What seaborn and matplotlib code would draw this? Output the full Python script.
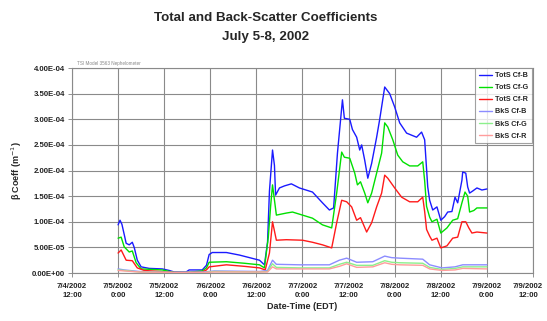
import datetime as dt

import matplotlib
matplotlib.use("Agg")
import matplotlib.pyplot as plt
from matplotlib.ticker import FuncFormatter, MultipleLocator
import matplotlib.dates as mdates
import matplotlib.transforms as mtransforms
import numpy as np
import pandas as pd
import seaborn as sns

# Hours since 2002-07-05 00:00 EDT, and coefficients in units of 1e-4 m^-1
tot_b_hours = [0.0, 0.5, 1.0, 1.6, 2.1, 2.9, 3.7, 4.2, 5.0, 6.0, 8.1, 11.5, 13.3, 14.6,
               17.7, 18.5, 21.9, 23.0, 23.7, 24.5, 28.2, 31.6, 34.2, 36.8, 38.1, 38.9,
               39.4, 39.9, 40.2, 40.7, 41.0, 42.0, 43.3, 45.1, 47.2, 50.6, 53.2, 55.0,
               56.1, 57.1, 58.4, 58.9, 60.3, 61.0, 62.1, 62.9, 63.4, 64.2, 65.0, 66.0,
               67.3, 68.1, 69.4, 70.7, 72.0, 73.3, 75.1, 77.7, 79.0, 79.8, 80.6, 81.1,
               81.9, 83.0, 84.0, 85.0, 85.8, 86.9, 87.7, 88.4, 89.5, 89.7, 90.5, 91.0,
               91.5, 92.3, 93.4, 94.7, 96.0]
tot_b = [0.94, 1.03, 0.95, 0.75, 0.58, 0.55, 0.60, 0.50, 0.25, 0.12, 0.09, 0.08, 0.05, 0.02,
         0.02, 0.06, 0.06, 0.15, 0.36, 0.40, 0.40, 0.35, 0.30, 0.25, 0.16, 0.60,
         1.60, 2.10, 2.40, 2.10, 1.52, 1.66, 1.70, 1.74, 1.66, 1.58, 1.37, 1.23,
         1.27, 2.34, 3.38, 3.02, 3.00, 2.80, 2.65, 2.40, 2.50, 2.20, 1.85, 2.14,
         2.65, 3.00, 3.63, 3.50, 3.24, 2.93, 2.73, 2.65, 2.75, 2.60, 1.68, 1.42,
         1.23, 1.29, 1.03, 1.10, 1.19, 1.20, 1.48, 1.37, 1.81, 1.97, 1.95, 1.68,
         1.56, 1.60, 1.66, 1.62, 1.64]

tot_g_hours = [0.0, 0.8, 1.6, 2.9, 3.7, 4.7, 6.0, 11.5, 14.6, 17.7, 21.9, 23.0, 23.7, 28.2,
               32.9, 36.8, 38.1, 39.1, 39.7, 40.2, 41.2, 43.8, 45.4, 48.0, 50.6, 53.2,
               55.6, 56.9, 58.2, 58.9, 60.3, 61.6, 62.3, 63.1, 64.2, 65.0, 66.0, 67.3,
               68.6, 69.4, 70.2, 71.5, 72.8, 74.1, 75.9, 78.0, 79.3, 79.8, 80.3, 81.1,
               81.7, 83.0, 84.0, 85.6, 87.1, 88.4, 89.5, 90.3, 91.0, 91.5, 92.6, 93.4, 96.0]
tot_g = [0.68, 0.70, 0.51, 0.41, 0.43, 0.20, 0.08, 0.06, 0.01, 0.01, 0.04, 0.10, 0.21, 0.22,
         0.19, 0.16, 0.10, 0.70, 1.30, 1.72, 1.13, 1.17, 1.19, 1.13, 1.07, 0.94,
         0.88, 1.56, 2.36, 2.26, 2.24, 1.95, 1.72, 1.78, 1.56, 1.37, 1.56, 1.95,
         2.34, 2.93, 2.85, 2.60, 2.30, 2.17, 2.09, 2.09, 2.17, 1.80, 1.30, 1.09,
         1.00, 1.05, 0.78, 0.88, 1.03, 1.06, 1.37, 1.58, 1.50, 1.19, 1.22, 1.27, 1.27]

tot_r_hours = [0.0, 0.8, 2.1, 3.7, 5.0, 6.8, 14.6, 17.7, 21.9, 23.0, 23.7, 28.2, 32.9, 36.8,
               38.3, 39.4, 40.2, 41.2, 43.8, 48.0, 50.6, 53.2, 55.6, 56.9, 58.2, 59.5,
               60.8, 62.1, 63.1, 64.7, 66.0, 67.3, 68.6, 69.4, 70.2, 72.0, 73.8, 75.9,
               78.0, 79.3, 79.8, 80.3, 81.1, 81.7, 83.0, 84.0, 85.6, 87.1, 88.4, 89.5,
               90.5, 91.3, 92.1, 93.4, 96.0]
tot_r = [0.39, 0.45, 0.25, 0.24, 0.10, 0.05, 0.01, 0.01, 0.02, 0.06, 0.12, 0.16, 0.13, 0.10,
         0.06, 0.39, 1.00, 0.64, 0.65, 0.64, 0.60, 0.55, 0.49, 0.98, 1.42, 1.39,
         1.29, 1.03, 1.08, 0.80, 0.98, 1.29, 1.56, 1.91, 1.85, 1.66, 1.48, 1.39,
         1.39, 1.48, 1.20, 0.85, 0.72, 0.64, 0.68, 0.49, 0.53, 0.68, 0.70, 1.00,
         1.00, 0.88, 0.78, 0.80, 0.78]

bks_hours = [0.0, 1.6, 5.5, 14.6, 22.4, 25.0, 36.8, 38.9, 40.2, 41.2, 47.2, 55.0, 57.6,
             59.5, 62.1, 66.3, 69.4, 71.2, 73.3, 79.3, 81.1, 84.3, 87.7, 89.7, 96.0]
bks_b = [0.08, 0.06, 0.03, 0.01, 0.02, 0.04, 0.03, 0.05, 0.25, 0.17, 0.16, 0.16, 0.25,
         0.29, 0.21, 0.22, 0.33, 0.30, 0.29, 0.27, 0.16, 0.10, 0.12, 0.16, 0.16]
bks_g = [0.06, 0.05, 0.02, 0.01, 0.01, 0.03, 0.02, 0.03, 0.18, 0.11, 0.10, 0.10, 0.17,
         0.21, 0.15, 0.15, 0.24, 0.21, 0.20, 0.19, 0.11, 0.07, 0.09, 0.12, 0.12]
bks_r = [0.05, 0.04, 0.02, 0.01, 0.01, 0.02, 0.02, 0.02, 0.12, 0.08, 0.08, 0.08, 0.13,
         0.18, 0.11, 0.12, 0.20, 0.17, 0.16, 0.15, 0.08, 0.05, 0.06, 0.09, 0.08]

series_names = ["TotS Cf-B", "TotS Cf-G", "TotS Cf-R", "BkS Cf-B", "BkS Cf-G", "BkS Cf-R"]
series_colors = ["#1a1aff", "#00e000", "#ff1a1a", "#8c8cff", "#8cf08c", "#ff9c9c"]

start = dt.datetime(2002, 7, 5, 0, 0)
frames = []
for name, hrs, vals in zip(series_names,
                           [tot_b_hours, tot_g_hours, tot_r_hours, bks_hours, bks_hours, bks_hours],
                           [tot_b, tot_g, tot_r, bks_b, bks_g, bks_r]):
    frames.append(pd.DataFrame({
        "time": [start + dt.timedelta(hours=h) for h in hrs],
        "coeff": np.array(vals) * 1e-4,
        "series": name,
    }))
df = pd.concat(frames, ignore_index=True)

sns.set_style("white")
plt.rcParams["font.family"] = ["Liberation Sans", "DejaVu Sans"]

fig = plt.figure(figsize=(5.47, 3.21), dpi=100)
ax = fig.add_axes([0.1316, 0.1495, 0.8428, 0.6385])

sns.lineplot(data=df, x="time", y="coeff", hue="series", hue_order=series_names,
             palette=dict(zip(series_names, series_colors)), estimator=None,
             sort=False, linewidth=1.0, ax=ax)

# axes ranges and ticks
ax.set_xlim(dt.datetime(2002, 7, 4, 12), dt.datetime(2002, 7, 9, 12))
ax.set_ylim(0, 4.0e-4)
ax.xaxis.set_major_locator(mdates.HourLocator(byhour=[0, 12]))


def fmt_time(x, pos):
    d = mdates.num2date(x)
    return f"{d.month}/{d.day}/{d.year}\n{d.hour}:{d.minute:02d}"


ax.xaxis.set_major_formatter(FuncFormatter(fmt_time))
ax.yaxis.set_major_locator(MultipleLocator(5e-5))
ax.yaxis.set_major_formatter(FuncFormatter(lambda v, p: f"{v:.2E}"))

ax.tick_params(axis="both", which="major", labelsize=5.6, length=3, width=0.6,
               color="#808080", direction="out", pad=2, bottom=True, left=True)
ax.tick_params(axis="x", pad=4)
fig.canvas.draw()
xlabels = ax.get_xticklabels()
for lab in xlabels + ax.get_yticklabels():
    lab.set_fontweight("bold")
    lab.set_color("#222222")
for lab in xlabels:
    lab.set_linespacing(1.45)
# keep the final date label inside the figure edge
xlabels[-1].set_transform(xlabels[-1].get_transform() +
                          mtransforms.ScaledTranslation(-5 / 100, 0, fig.dpi_scale_trans))

ax.grid(True, color="#8a8a8a", linewidth=0.8)
for sp in ax.spines.values():
    sp.set_color("#8a8a8a")
    sp.set_linewidth(0.8)

ax.set_xlabel("Date-Time (EDT)", fontsize=6.5, fontweight="bold", labelpad=2)
ax.set_ylabel("β Coeff (m$^{-1}$)", fontsize=6.5, fontweight="bold", labelpad=6)

leg = ax.legend(loc="upper right", bbox_to_anchor=(0.998, 0.998), fontsize=5.2,
                frameon=True, fancybox=False, borderaxespad=0, handlelength=1.8,
                handletextpad=0.5, labelspacing=0.7, borderpad=0.5)
leg.get_frame().set_edgecolor("#8a8a8a")
leg.get_frame().set_linewidth(0.8)
for t in leg.get_texts():
    t.set_fontweight("bold")

fig.text(0.486, 0.944, "Total and Back-Scatter Coefficients", ha="center", va="center",
         fontsize=9.6, fontweight="bold")
fig.text(0.486, 0.885, "July 5-8, 2002", ha="center", va="center",
         fontsize=9.6, fontweight="bold")
fig.text(0.140, 0.803, "TSI Model 3563 Nephelometer", ha="left", va="center",
         fontsize=3.3, color="#888888")

fig.savefig("out.png", dpi=100)
